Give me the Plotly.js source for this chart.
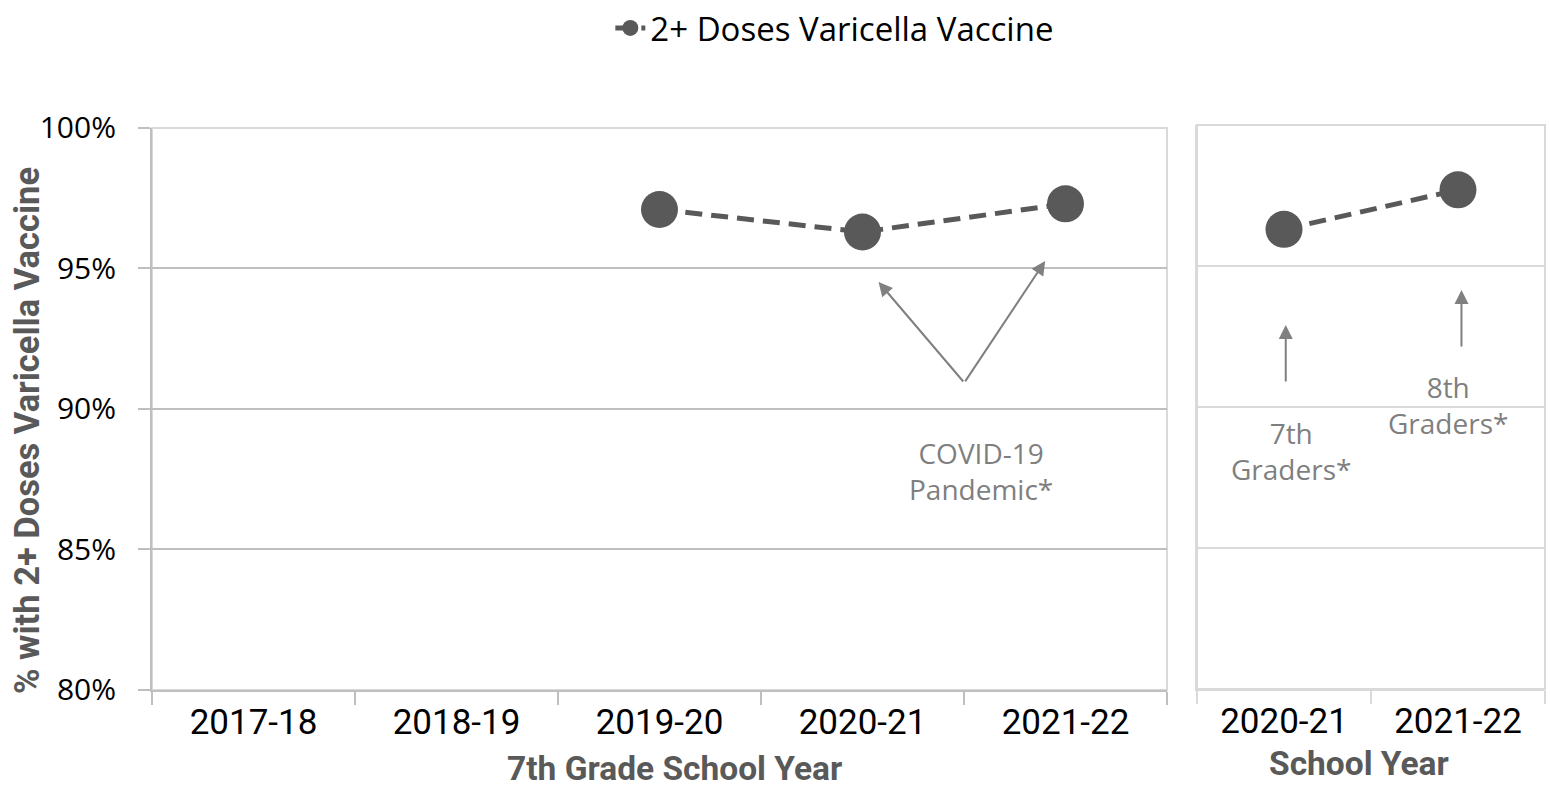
<!DOCTYPE html>
<html>
<head>
<meta charset="utf-8">
<script src="https://cdn.plot.ly/plotly-3.0.1.min.js"></script>
<style>html,body{margin:0;padding:0;background:#fff;}#chart{width:1550px;height:791px;}</style>
</head>
<body>
<div id="chart"></div>
<script>
// ---- data ----
const seriesName = '2+ Doses Varicella Vaccine';
const years7th = ['2017-18', '2018-19', '2019-20', '2020-21', '2021-22'];
const values7th = [null, null, 97.1, 96.3, 97.3];
const yearsCohort = ['2020-21', '2021-22'];
const valuesCohort = [96.3, 97.7];
const yTicks = [80, 85, 90, 95, 100];
const yTickText = ['80%', '85%', '90%', '95%', '100%'];
const xTitle7th = '7th Grade School Year';
const xTitleCohort = 'School Year';
const yTitle = '% with 2+ Doses Varicella Vaccine';

const narrow = '"Liberation Sans Narrow", "Arial Narrow", Roboto, sans-serif';
const sans = '"Open Sans", "Noto Sans", sans-serif';
const dark = '#595959';
const arrowGray = '#808080';

const traces = [
  {
    x: years7th, y: values7th, xaxis: 'x', yaxis: 'y',
    type: 'scatter', mode: 'lines+markers', name: seriesName,
    line: {color: dark, width: 5, dash: '17px,9px'},
    marker: {color: dark, size: 37},
    hoverinfo: 'x+y'
  },
  {
    x: yearsCohort, y: valuesCohort, xaxis: 'x2', yaxis: 'y2',
    type: 'scatter', mode: 'lines+markers', name: seriesName, showlegend: false,
    line: {color: dark, width: 5, dash: '17px,9px'},
    marker: {color: dark, size: 37},
    hoverinfo: 'x+y'
  }
];

const annFont = {family: sans, size: 28, color: '#7f7f7f'};
const titleFont = (s) => ({family: narrow, size: s, color: dark, weight: 'bold'});
const layout = {
  width: 1550, height: 791,
  margin: {l: 0, r: 0, t: 0, b: 0},
  paper_bgcolor: '#fff', plot_bgcolor: '#fff',
  showlegend: true,
  legend: {
    orientation: 'h', x: 0.5386, xanchor: 'center', y: 1.0, yanchor: 'top',
    font: {family: sans, size: 33, color: '#000'}
  },
  xaxis: {
    domain: [0.09806, 0.75290], anchor: 'y',
    type: 'category', categoryorder: 'array', categoryarray: years7th,
    range: [-0.5, 4.5],
    showline: true, linecolor: '#bfbfbf', linewidth: 2,
    ticks: 'outside', tickson: 'boundaries', ticklen: 13, tickcolor: '#bfbfbf', tickwidth: 2,
    showgrid: false, zeroline: false,
    tickfont: {family: narrow, size: 35, color: '#000'}
  },
  yaxis: {
    domain: [0.12769, 0.83818], anchor: 'x',
    range: [80, 100], tickmode: 'array', tickvals: yTicks, ticktext: yTickText,
    showline: true, linecolor: '#bfbfbf', linewidth: 2,
    ticks: 'outside', ticklen: 12, tickcolor: '#bfbfbf', tickwidth: 2,
    showgrid: true, gridcolor: '#bfbfbf', gridwidth: 2, zeroline: false,
    ticklabelstandoff: 16,
    tickfont: {family: sans, size: 30, color: '#000'}
  },
  xaxis2: {
    domain: [0.77226, 0.99677], anchor: 'y2',
    type: 'category', categoryorder: 'array', categoryarray: yearsCohort,
    range: [-0.5, 1.5],
    showline: true, linecolor: '#d9d9d9', linewidth: 2,
    ticks: 'outside', tickson: 'boundaries', ticklen: 13, tickcolor: '#d9d9d9', tickwidth: 2,
    showgrid: false, zeroline: false,
    tickfont: {family: narrow, size: 35, color: '#000'}
  },
  yaxis2: {
    domain: [0.12895, 0.84197], anchor: 'x2',
    range: [80, 100], tickvals: yTicks,
    showticklabels: false, ticks: '',
    showline: true, linecolor: '#d9d9d9', linewidth: 2,
    showgrid: true, gridcolor: '#d9d9d9', gridwidth: 2, zeroline: false
  },
  shapes: [
    {type: 'rect', xref: 'x domain', yref: 'y domain', x0: 0, x1: 1, y0: 0, y1: 1,
     line: {color: '#d9d9d9', width: 2}, layer: 'below'},
    {type: 'rect', xref: 'x2 domain', yref: 'y2 domain', x0: 0, x1: 1, y0: 0, y1: 1,
     line: {color: '#d9d9d9', width: 2}, layer: 'below'}
  ],
  annotations: [
    {xref: 'paper', yref: 'paper', x: 0.43484, y: 0.029, showarrow: false,
     text: xTitle7th, font: titleFont(33.5), xanchor: 'center', yanchor: 'middle'},
    {xref: 'paper', yref: 'paper', x: 0.87677, y: 0.0345, showarrow: false,
     text: xTitleCohort, font: titleFont(33.5), xanchor: 'center', yanchor: 'middle'},
    {xref: 'paper', yref: 'paper', x: 0.0174, y: 0.4564, showarrow: false, textangle: -90,
     text: yTitle, font: titleFont(34.5), xanchor: 'center', yanchor: 'middle'},
    {xref: 'x', yref: 'y', x: 3.079, y: 94.52, ax: 86, ay: 101, showarrow: true,
     arrowhead: 2, arrowsize: 1.4, arrowwidth: 2, arrowcolor: arrowGray, text: ''},
    {xref: 'x', yref: 'y', x: 3.90, y: 95.27, ax: -81, ay: 122, showarrow: true,
     arrowhead: 2, arrowsize: 1.4, arrowwidth: 2, arrowcolor: arrowGray, text: ''},
    {xref: 'x', yref: 'y', x: 3.586, y: 87.79, showarrow: false,
     text: 'COVID-19<br>Pandemic*', font: annFont, align: 'center'},
    {xref: 'x2', yref: 'y2', x: 0.01, y: 92.91, ax: 0, ay: 58, showarrow: true,
     arrowhead: 2, arrowsize: 1.4, arrowwidth: 2, arrowcolor: arrowGray, text: ''},
    {xref: 'x2', yref: 'y2', x: 1.02, y: 94.15, ax: 0, ay: 58, showarrow: true,
     arrowhead: 2, arrowsize: 1.4, arrowwidth: 2, arrowcolor: arrowGray, text: ''},
    {xref: 'x2', yref: 'y2', x: 0.04, y: 88.44, showarrow: false,
     text: '7th<br>Graders*', font: annFont, align: 'center'},
    {xref: 'x2', yref: 'y2', x: 0.94, y: 90.07, showarrow: false,
     text: '8th<br>Graders*', font: annFont, align: 'center'}
  ]
};

Plotly.newPlot('chart', traces, layout, {displayModeBar: false});
</script>
</body>
</html>
